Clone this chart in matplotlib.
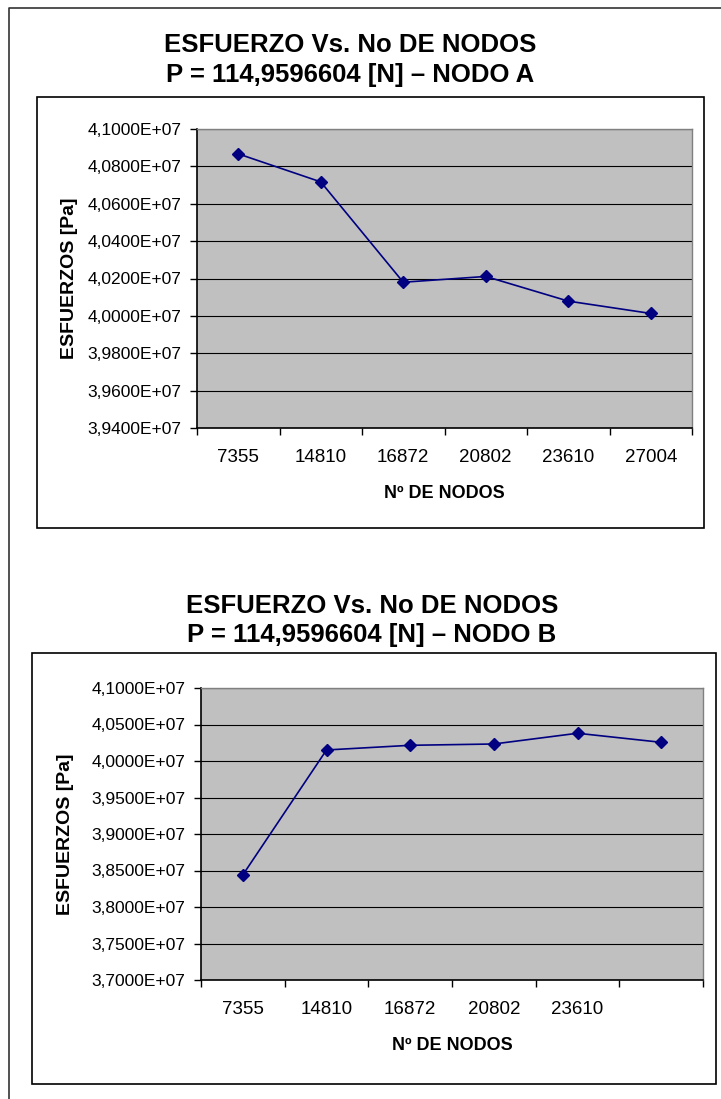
# coding=utf-8
"""
Esfuerzo vs. numero de nodos (nodos A y B)
"""

import numpy as np
import matplotlib
matplotlib.use('Agg')
import matplotlib.pyplot as plt
from matplotlib.patches import Rectangle
from matplotlib.lines import Line2D
from matplotlib.ticker import FuncFormatter, MultipleLocator

# Datos
nodos_a = ['7355', '14810', '16872', '20802', '23610', '27004']
nodos_b = ['7355', '14810', '16872', '20802', '23610', '']
esfuerzo_a = [4.0867e7, 4.0717e7, 4.0180e7, 4.0211e7, 4.0079e7, 4.0013e7]
esfuerzo_b = [3.8440e7, 4.0151e7, 4.0215e7, 4.0233e7, 4.0380e7, 4.0256e7]
titulo_a = 'ESFUERZO Vs. No DE NODOS\nP = 114,9596604 [N] – NODO A'
titulo_b = 'ESFUERZO Vs. No DE NODOS\nP = 114,9596604 [N] – NODO B'
xlabel = 'Nº DE NODOS'
ylabel = 'ESFUERZOS [Pa]'

# Constantes de estilo
W, H = 721, 1099
GRIS = '#C0C0C0'
AZUL = '#000080'

plt.rcParams['font.family'] = ['Liberation Sans', 'DejaVu Sans']


def fx(x):
    return x / W


def fy(y):
    return 1 - y / H


def formato(v, pos):
    return ('%.4E' % v).replace('.', ',')


def grafico(fig, caja, area, titulo, ty, tx, cats, vals, ylim, paso, ylx):
    """
    Dibuja un grafico tipo Excel
    caja: (x0, y0, x1, y1) en pixeles del recuadro
    area: (x0, y0, x1, y1) en pixeles del area de trazado
    """
    # Recuadro del grafico
    x0, y0, x1, y1 = caja
    fig.patches.append(Rectangle((fx(x0), fy(y1)), fx(x1 - x0), (y1 - y0) / H,
                                 transform=fig.transFigure, fill=False,
                                 edgecolor='black', linewidth=1.2))

    # Titulo
    fig.text(fx(tx), fy(ty), titulo, ha='center', va='center', fontsize=18.5,
             fontweight='bold', linespacing=1.3)

    a0, b0, a1, b1 = area
    ax = fig.add_axes([fx(a0), fy(b1), fx(a1 - a0), (b1 - b0) / H])
    ax.set_facecolor(GRIS)
    x = np.arange(len(vals))
    ax.plot(x, vals, color=AZUL, linewidth=1.2, marker='D', markersize=6,
            markerfacecolor=AZUL, markeredgecolor=AZUL)
    ax.set_xlim(-0.5, len(vals) - 0.5)
    ax.set_ylim(*ylim)

    # Ejes
    ax.yaxis.set_major_locator(MultipleLocator(paso))
    ax.yaxis.set_major_formatter(FuncFormatter(formato))
    ax.grid(axis='y', color='black', linewidth=0.8)
    ax.set_axisbelow(True)
    ax.set_xticks(np.arange(-0.5, len(vals), 1))
    ax.set_xticklabels([])
    ax.set_xticks(x, minor=True)
    ax.set_xticklabels(cats, minor=True, fontsize=13.5)
    ax.tick_params(axis='x', which='major', length=5, width=1, direction='out')
    ax.tick_params(axis='x', which='minor', length=0, pad=15)
    ax.tick_params(axis='y', length=5, width=1, direction='out', pad=6,
                   labelsize=12.5)
    for s in ['top', 'right']:
        ax.spines[s].set_color('#808080')
        ax.spines[s].set_linewidth(1.0)
    for s in ['left', 'bottom']:
        ax.spines[s].set_color('black')
        ax.spines[s].set_linewidth(1.2)

    # Rotulos
    fig.text(fx((a0 + a1) / 2), fy(b1 + 65), xlabel, ha='center', va='center',
             fontsize=13, fontweight='bold')
    fig.text(fx(ylx), fy((b0 + b1) / 2), ylabel, ha='center', va='center',
             rotation=90, fontsize=14, fontweight='bold')
    return ax


fig = plt.figure(figsize=(W / 100, H / 100), dpi=100)

# Borde exterior
fig.add_artist(Line2D([fx(9), fx(9), fx(721)], [fy(1099), fy(8), fy(8)],
                      transform=fig.transFigure, color='#333333', linewidth=1.2))

grafico(fig, (37, 97, 704, 528), (197, 129, 692, 428), titulo_a, 60, 350,
        nodos_a, esfuerzo_a, (3.94e7, 4.10e7), 0.02e7, 70)
grafico(fig, (32, 653, 716, 1084), (201, 688, 703, 980), titulo_b, 620.5, 372,
        nodos_b, esfuerzo_b, (3.70e7, 4.10e7), 0.05e7, 66)

fig.savefig('out.png', dpi=100)
